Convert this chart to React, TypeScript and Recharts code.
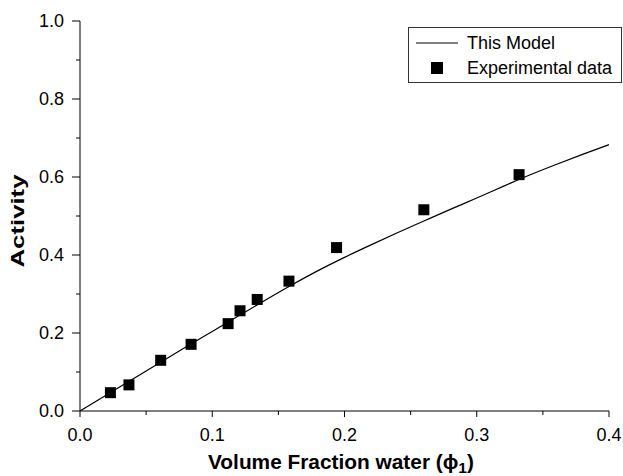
import React from "react";
import { ComposedChart, Line, Scatter, XAxis, YAxis, Legend, Label } from "recharts";

// model curve
const modelPhi = [0, 0.02, 0.04, 0.06, 0.08, 0.1, 0.12, 0.14, 0.16, 0.18, 0.2, 0.22, 0.24, 0.26, 0.28, 0.3, 0.32, 0.34, 0.36, 0.38, 0.4];
const modelActivity = [0, 0.041, 0.082, 0.123, 0.164, 0.204, 0.244, 0.284, 0.323, 0.36, 0.394, 0.426, 0.457, 0.487, 0.517, 0.546, 0.576, 0.605, 0.632, 0.658, 0.683];

// experimental points
const expPhi = [0.023, 0.037, 0.061, 0.084, 0.112, 0.121, 0.134, 0.158, 0.194, 0.26, 0.332];
const expActivity = [0.047, 0.067, 0.13, 0.171, 0.224, 0.257, 0.286, 0.333, 0.419, 0.516, 0.606];

const xTicks = [0, 0.05, 0.1, 0.15, 0.2, 0.25, 0.3, 0.35, 0.4];
const yTicks = [0, 0.1, 0.2, 0.3, 0.4, 0.5, 0.6, 0.7, 0.8, 0.9, 1.0];
const legendOrder = ["This Model", "Experimental data"];

const modelData = modelPhi.map((phi, i) => ({ phi, activity: modelActivity[i] }));
const expData = expPhi.map((phi, i) => ({ phi, activity: expActivity[i] }));

const font = "'Liberation Sans', Arial, sans-serif";

const XTick = (props: any) => {
  const { x, y, payload } = props;
  const v = payload.value;
  const major = Math.round(v * 100) % 10 === 0;
  return (
    <g>
      <line x1={x} x2={x} y1={y} y2={y + (major ? 6 : 4)} stroke="#000" />
      {major && (
        <text x={x} y={y + 30} textAnchor="middle" fontSize={18} fill="#000" fontFamily={font}>
          {v.toFixed(1)}
        </text>
      )}
    </g>
  );
};

const YTick = (props: any) => {
  const { x, y, payload } = props;
  const v = payload.value;
  const major = Math.round(v * 10) % 2 === 0;
  return (
    <g>
      <line x1={x} x2={x - (major ? 8 : 4)} y1={y} y2={y} stroke="#000" />
      {major && (
        <text x={x - 16} y={y + 6} textAnchor="end" fontSize={18} fill="#000" fontFamily={font}>
          {v.toFixed(1)}
        </text>
      )}
    </g>
  );
};

const SquareDot = (props: any) => {
  const { cx, cy } = props;
  return <rect x={cx - 5.5} y={cy - 5.5} width={11} height={11} fill="#000" />;
};

const renderLegend = (props: any) => {
  const payload = props.payload || [];
  const items = legendOrder.map((n) => payload.find((p: any) => p.value === n)).filter(Boolean);
  return (
    <div
      style={{
        width: 214,
        height: 56,
        border: "1px solid #333",
        boxSizing: "border-box",
        background: "#fff",
        position: "relative",
        fontFamily: font,
        fontSize: 18,
        color: "#000",
      }}
    >
      {items.map((entry: any, i: number) => (
        <div
          key={entry.value}
          style={{ position: "absolute", left: 0, top: 3 + i * 25, height: 24, display: "flex", alignItems: "center" }}
        >
          <svg width={58} height={24} style={{ display: "block" }}>
            {entry.type === "line" ? (
              <line x1={7} x2={49} y1={12} y2={12} stroke="#000" />
            ) : (
              <rect x={22} y={6} width={12} height={12} fill="#000" />
            )}
          </svg>
          <span style={{ whiteSpace: "nowrap" }}>{entry.value}</span>
        </div>
      ))}
    </div>
  );
};

export default function App() {
  return (
    <div style={{ position: "absolute", left: 0, top: 0, background: "#fff" }}>
      <ComposedChart width={623} height={476} margin={{ top: 21, right: 14, bottom: 0, left: 0 }}>
        <XAxis
          dataKey="phi"
          type="number"
          domain={[0, 0.4]}
          ticks={xTicks}
          interval={0}
          height={65}
          tickSize={0}
          tickMargin={0}
          tickLine={false}
          axisLine={{ stroke: "#000" }}
          tick={<XTick />}
          allowDataOverflow
        >
          <Label
            content={() => (
              <text
                x={341}
                y={469}
                textAnchor="middle"
                fontSize={20}
                fontWeight="bold"
                fill="#000"
                fontFamily={font}
                textLength={266}
                lengthAdjust="spacingAndGlyphs"
              >
                Volume Fraction water (ϕ
                <tspan fontSize={15} dy={4}>1</tspan>
                <tspan dy={-4}>)</tspan>
              </text>
            )}
          />
        </XAxis>
        <YAxis
          dataKey="activity"
          type="number"
          domain={[0, 1]}
          ticks={yTicks}
          interval={0}
          width={80}
          tickSize={0}
          tickMargin={0}
          tickLine={false}
          axisLine={{ stroke: "#000" }}
          tick={<YTick />}
          allowDataOverflow
        >
          <Label
            content={() => (
              <text
                x={24}
                y={221}
                transform="rotate(-90 24 221)"
                textAnchor="middle"
                fontSize={19}
                fontWeight="bold"
                fill="#000"
                fontFamily={font}
                textLength={93}
                lengthAdjust="spacingAndGlyphs"
              >
                Activity
              </text>
            )}
          />
        </YAxis>
        <Legend
          layout="horizontal"
          align="center"
          verticalAlign="middle"
          content={renderLegend}
          wrapperStyle={{ left: 408, top: 27, width: 214, height: 56 }}
        />
        <Line
          data={modelData}
          dataKey="activity"
          name="This Model"
          type="natural"
          stroke="#000"
          strokeWidth={1.2}
          dot={false}
          legendType="line"
          isAnimationActive={false}
        />
        <Scatter
          data={expData}
          dataKey="activity"
          name="Experimental data"
          fill="#000"
          shape={<SquareDot />}
          legendType="square"
          isAnimationActive={false}
        />
      </ComposedChart>
    </div>
  );
}
